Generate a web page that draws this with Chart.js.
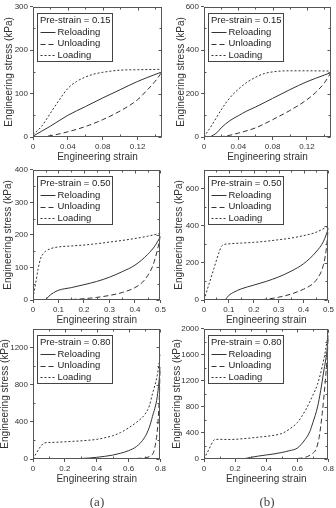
<!DOCTYPE html>
<html lang="en">
<head>
<meta charset="UTF-8">
<script src="https://cdn.jsdelivr.net/npm/chart.js"></script>
<style>
  body { margin: 0; width: 336px; height: 508px; background: #fff; position: relative; overflow: hidden; }
  .panel { position: absolute; width: 168px; height: 165px; }
  .cap { position: absolute; top: 494px; width: 40px; text-align: center; font-family: "Liberation Serif", "DejaVu Serif", serif; font-size: 13px; color: #444; }
</style>
</head>
<body>
<div class="panel" style="left:0;top:0"><canvas id="a15"></canvas></div>
<div class="panel" style="left:168px;top:0"><canvas id="b15"></canvas></div>
<div class="panel" style="left:0;top:163px"><canvas id="a50"></canvas></div>
<div class="panel" style="left:168px;top:163px"><canvas id="b50"></canvas></div>
<div class="panel" style="left:0;top:322px"><canvas id="a80"></canvas></div>
<div class="panel" style="left:168px;top:322px"><canvas id="b80"></canvas></div>
<div class="cap" style="left:77px">(a)</div>
<div class="cap" style="left:247px">(b)</div>

<script>
// [strain, stress kPa] pairs
const a15Reload = [[0,2],[0.02,25],[0.04,50],[0.06,70],[0.08,90],[0.1,109],[0.12,128],[0.14,144],[0.148,150]];
const a15Unload = [[0.008,0],[0.02,3],[0.04,12],[0.06,24],[0.08,40],[0.1,60],[0.12,86],[0.13,106],[0.14,128],[0.148,150]];
const a15Load = [[0,5],[0.01,25],[0.02,55],[0.03,85],[0.04,112],[0.05,128],[0.06,138],[0.07,145],[0.08,149],[0.09,152],[0.1,154],[0.12,155],[0.148,156]];

const b15Reload = [[0.007,0],[0.015,20],[0.02,42],[0.03,75],[0.04,98],[0.05,120],[0.06,138],[0.08,178],[0.1,218],[0.12,255],[0.14,285],[0.148,297]];
const b15Unload = [[0.018,0],[0.03,8],[0.04,18],[0.06,42],[0.08,80],[0.1,122],[0.12,172],[0.13,205],[0.14,248],[0.148,297]];
const b15Load = [[0,0],[0.01,60],[0.02,125],[0.03,180],[0.04,220],[0.05,252],[0.06,275],[0.07,292],[0.08,300],[0.09,304],[0.1,305],[0.12,305],[0.148,304]];

const a50Reload = [[0.05,0],[0.06,10],[0.08,22],[0.1,30],[0.15,38],[0.2,47],[0.25,57],[0.3,70],[0.35,87],[0.4,107],[0.45,140],[0.48,168],[0.5,195]];
const a50Unload = [[0.12,0],[0.2,4],[0.25,8],[0.3,14],[0.35,23],[0.4,38],[0.43,55],[0.45,75],[0.47,105],[0.48,130],[0.49,160],[0.5,195]];
const a50Load = [[0,5],[0.01,50],[0.02,95],[0.03,128],[0.04,142],[0.05,150],[0.07,158],[0.1,163],[0.15,166],[0.2,169],[0.25,173],[0.3,178],[0.35,183],[0.4,189],[0.45,196],[0.5,205]];

const b50Reload = [[0.085,0],[0.1,25],[0.12,42],[0.15,60],[0.2,80],[0.25,100],[0.3,124],[0.35,155],[0.4,195],[0.45,258],[0.48,315],[0.5,385]];
const b50Unload = [[0.2,0],[0.25,4],[0.3,15],[0.35,32],[0.4,58],[0.43,80],[0.45,105],[0.47,150],[0.48,190],[0.49,260],[0.5,385]];
const b50Load = [[0,0],[0.02,85],[0.04,170],[0.06,255],[0.07,288],[0.08,298],[0.1,302],[0.15,306],[0.2,310],[0.25,316],[0.3,324],[0.35,333],[0.4,346],[0.45,364],[0.5,398]];

const a80Reload = [[0.22,0],[0.3,5],[0.4,18],[0.5,42],[0.55,62],[0.6,90],[0.65,135],[0.7,230],[0.73,340],[0.75,458],[0.78,670],[0.8,990]];
const a80Unload = [[0.5,0],[0.6,3],[0.65,6],[0.7,12],[0.73,25],[0.75,50],[0.76,90],[0.77,170],[0.78,300],[0.79,550],[0.8,950]];
const a80Load = [[0,0],[0.02,60],[0.05,140],[0.07,172],[0.1,178],[0.15,180],[0.2,185],[0.25,190],[0.3,195],[0.35,202],[0.4,211],[0.45,228],[0.5,250],[0.55,285],[0.6,335],[0.65,395],[0.7,475],[0.73,570],[0.75,700],[0.78,900],[0.8,1128]];

const b80Reload = [[0.25,0],[0.3,25],[0.35,45],[0.4,62],[0.45,78],[0.5,100],[0.55,128],[0.6,168],[0.65,300],[0.68,420],[0.7,560],[0.73,800],[0.75,1050],[0.77,1350],[0.79,1650],[0.8,1900]];
const b80Unload = [[0.55,0],[0.6,8],[0.65,25],[0.7,90],[0.72,150],[0.74,330],[0.76,700],[0.78,1200],[0.79,1500],[0.8,1850]];
const b80Load = [[0,0],[0.03,140],[0.06,280],[0.07,300],[0.1,302],[0.15,300],[0.2,302],[0.25,312],[0.3,322],[0.35,335],[0.4,348],[0.45,365],[0.5,392],[0.55,460],[0.6,560],[0.65,740],[0.7,980],[0.73,1150],[0.76,1420],[0.78,1650],[0.8,1950]];

const seriesLabels = ['Reloading', 'Unloading', 'Loading'];
const seriesDash = [[], [5, 3], [2, 2]];

Chart.defaults.font.family = '"Liberation Sans", Arial, sans-serif';
Chart.defaults.color = '#333';

const ink = '#333';

// box frame plus small inward ticks on all sides
const frameTicks = {
  id: 'frameTicks',
  afterDatasetsDraw(chart) {
    const { ctx, chartArea: a, scales } = chart;
    const L = Math.round(a.left) + 0.5, R = Math.round(a.right) - 0.5;
    const T = Math.round(a.top) + 0.5, B = Math.round(a.bottom) - 0.5;
    ctx.save();
    ctx.strokeStyle = '#555';
    ctx.lineWidth = 1;
    ctx.strokeRect(L, T, R - L, B - T);
    ctx.beginPath();
    [scales.x, scales.y].forEach(s => {
      const t = s.ticks;
      const step = t[1].value - t[0].value;
      const marks = [];
      t.forEach(k => marks.push([k.value, 3]));
      for (let v = s.min + step / 2; v <= s.max; v += step) marks.push([v, 2]);
      marks.forEach(([v, len]) => {
        const p = Math.round(s.getPixelForValue(v)) + 0.5;
        if (s.axis === 'x') {
          ctx.moveTo(p, T); ctx.lineTo(p, T + len);
          if (len === 2) { ctx.moveTo(p, B); ctx.lineTo(p, B - len); }
        } else {
          ctx.moveTo(R, p); ctx.lineTo(R - len, p);
          if (len === 2) { ctx.moveTo(L, p); ctx.lineTo(L + len, p); }
        }
      });
    });
    ctx.stroke();
    ctx.restore();
  }
};

// boxed legend in the upper-left corner of the plot
const legendBox = {
  id: 'legendBox',
  afterDraw(chart, args, opts) {
    const { ctx, chartArea: a } = chart;
    const x0 = Math.round(a.left) + 4.5, y0 = Math.round(a.top) + 6.5;
    ctx.save();
    ctx.font = '9.5px "Liberation Sans", Arial, sans-serif';
    const w = Math.round(ctx.measureText(opts.title).width) + 5;
    ctx.strokeStyle = '#444';
    ctx.lineWidth = 1;
    ctx.strokeRect(x0, y0, w, 48);
    ctx.fillStyle = '#222';
    ctx.textBaseline = 'middle';
    ctx.fillText(opts.title, x0 + 2.5, y0 + 6.5);
    chart.data.datasets.forEach((ds, i) => {
      const yy = y0 + 18.5 + i * 11.5;
      ctx.setLineDash(ds.borderDash);
      ctx.strokeStyle = ds.borderColor;
      ctx.beginPath();
      ctx.moveTo(x0 + 3, Math.round(yy) + 0.5);
      ctx.lineTo(x0 + 18, Math.round(yy) + 0.5);
      ctx.stroke();
      ctx.setLineDash([]);
      ctx.fillText(ds.label, x0 + 20, yy);
    });
    ctx.restore();
  }
};

function makePanel(id, col, preStrain, xMax, xStep, yMax, yStep, titleGap, curves) {
  const yW = col === 0 ? 33 : 36;
  const rightPad = col === 0 ? 6 : 5;
  new Chart(document.getElementById(id), {
    type: 'line',
    data: {
      datasets: curves.map((pts, i) => ({
        label: seriesLabels[i],
        data: pts.map(p => ({ x: p[0], y: p[1] })),
        borderColor: ink,
        borderWidth: 1,
        borderDash: seriesDash[i],
        pointRadius: 0,
        fill: false,
        cubicInterpolationMode: 'monotone'
      }))
    },
    options: {
      responsive: true,
      maintainAspectRatio: false,
      animation: false,
      layout: { padding: { left: 0, right: rightPad, top: 5, bottom: 0 } },
      plugins: {
        legend: { display: false },
        tooltip: { enabled: false },
        legendBox: { title: 'Pre-strain = ' + preStrain.toFixed(2) }
      },
      scales: {
        x: {
          type: 'linear',
          min: 0,
          max: xMax,
          afterFit: s => { s.height = 28; },
          ticks: {
            stepSize: xStep,
            includeBounds: false,
            maxRotation: 0,
            padding: 2,
            font: { size: 8 },
            callback: v => String(+v.toFixed(2))
          },
          grid: { drawOnChartArea: false, tickLength: 3, color: '#555' },
          border: { display: false },
          title: {
            display: true,
            text: 'Engineering strain',
            font: { size: 10 },
            padding: { top: 0, bottom: 2 }
          }
        },
        y: {
          type: 'linear',
          min: 0,
          max: yMax,
          afterFit: s => { s.width = yW; },
          ticks: {
            stepSize: yStep,
            includeBounds: false,
            padding: 2,
            font: { size: 8 },
            callback: v => String(v)
          },
          grid: { drawOnChartArea: false, tickLength: 3, color: '#555' },
          border: { display: false },
          title: {
            display: true,
            text: 'Engineering stress (kPa)',
            font: { size: 10, lineHeight: 1 },
            padding: { top: titleGap, bottom: 0 }
          }
        }
      }
    },
    plugins: [frameTicks, legendBox]
  });
}

makePanel('a15', 0, 0.15, 0.148, 0.04, 300, 100, 4, [a15Reload, a15Unload, a15Load]);
makePanel('b15', 1, 0.15, 0.148, 0.04, 600, 200, 8, [b15Reload, b15Unload, b15Load]);
makePanel('a50', 0, 0.50, 0.5, 0.1, 400, 100, 3, [a50Reload, a50Unload, a50Load]);
makePanel('b50', 1, 0.50, 0.5, 0.1, 700, 200, 6, [b50Reload, b50Unload, b50Load]);
makePanel('a80', 0, 0.80, 0.8, 0.2, 1400, 400, 0, [a80Reload, a80Unload, a80Load]);
makePanel('b80', 1, 0.80, 0.8, 0.2, 2000, 400, 4, [b80Reload, b80Unload, b80Load]);
</script>
</body>
</html>
